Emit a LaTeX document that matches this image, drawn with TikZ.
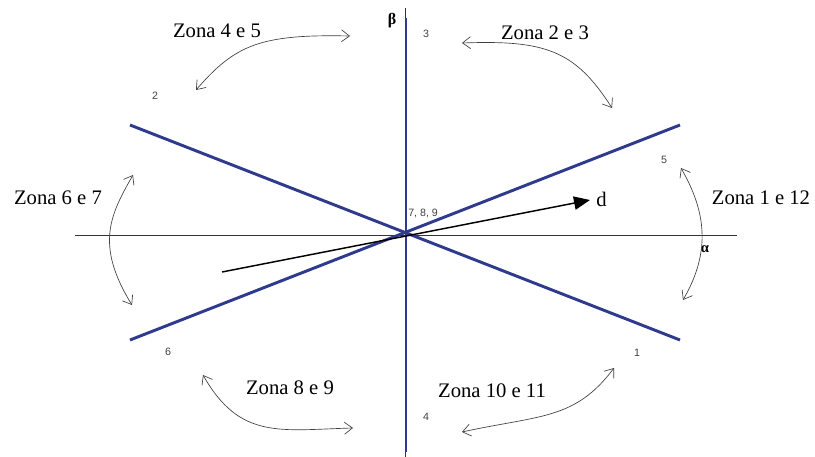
\documentclass[tikz,border=0pt]{standalone}
\usepackage{fontspec}
\setmainfont{Liberation Serif}
\newfontfamily\smallsans{Liberation Sans}
\usetikzlibrary{arrows.meta}
\definecolor{phase}{HTML}{2E3A8C}

\begin{document}
\begin{tikzpicture}[x=0.75pt, y=-0.75pt,
  phaseline/.style={phase, line width=2.2pt},
  axisline/.style={black!80, line width=0.5pt},
  zonearrow/.style={black!75, line width=0.5pt, {Straight Barb[length=6pt,width=9pt]}-{Straight Barb[length=6pt,width=9pt]}},
  zonelabel/.style={font=\fontsize{15.5}{17}\selectfont, inner sep=0pt},
  sectorno/.style={font=\smallsans\fontsize{8}{9}\selectfont, black!75, inner sep=0pt}]
\useasboundingbox (0,0) rectangle (815,457);

% ---------- axes alpha and beta
\coordinate (O) at (405,235);
\draw[axisline] (75,235) -- (737,235);
\draw[axisline] (405,8) -- (405,457);

% ---------- the three phase lines
\draw[phaseline] (406,18) -- (406,452);
\draw[phaseline] (130,125) -- (680,340);
\draw[phaseline] (130,340) -- (680,125);

% ---------- vector d
\coordinate (d0) at (222,272);
\coordinate (d1) at (590,200);
\draw[black, line width=1.1pt, -{Triangle[length=12pt,width=10pt]}] (d0) -- (d1);
\node[zonelabel, anchor=west] (dlab) at (596,199) {d};

% ---------- axis names and sector numbers
\node[font=\bfseries\fontsize{12}{13}\selectfont, inner sep=0pt] (beta) at (392,21) {β};
\node[font=\bfseries\fontsize{11}{12}\selectfont, inner sep=0pt] (alpha) at (705,249) {α};
\node[sectorno] (n3) at (426,34) {3};
\node[sectorno] (n2) at (155,96) {2};
\node[sectorno] (n5) at (664,160) {5};
\node[sectorno] (n1) at (637,353) {1};
\node[sectorno] (n4) at (426,417) {4};
\node[sectorno] (n6) at (168,352) {6};
\node[sectorno, anchor=west] (n789) at (408,213) {7, 8, 9};

% ---------- zone labels
\node[zonelabel] (z45) at (217,31) {Zona 4 e 5};
\node[zonelabel] (z23) at (545,33) {Zona 2 e 3};
\node[zonelabel] (z67) at (58,198) {Zona 6 e 7};
\node[zonelabel] (z112) at (761,198) {Zona 1 e 12};
\node[zonelabel] (z89) at (290,388) {Zona 8 e 9};
\node[zonelabel] (z1011) at (492,391) {Zona 10 e 11};

% ---------- zone arrows
\draw[zonearrow] (350,36) .. controls (260,34) and (235,45) .. (196,90);
\draw[zonearrow] (462,43) .. controls (545,40) and (575,50) .. (612,108);
\draw[zonearrow] (133,175) .. controls (110,215) and (95,245) .. (132,305);
\draw[zonearrow] (681,168) .. controls (705,210) and (712,250) .. (683,300);
\draw[zonearrow] (203,375) .. controls (240,440) and (280,430) .. (353,428);
\draw[zonearrow] (614,368) .. controls (575,420) and (540,415) .. (462,432);
\end{tikzpicture}
\end{document}
